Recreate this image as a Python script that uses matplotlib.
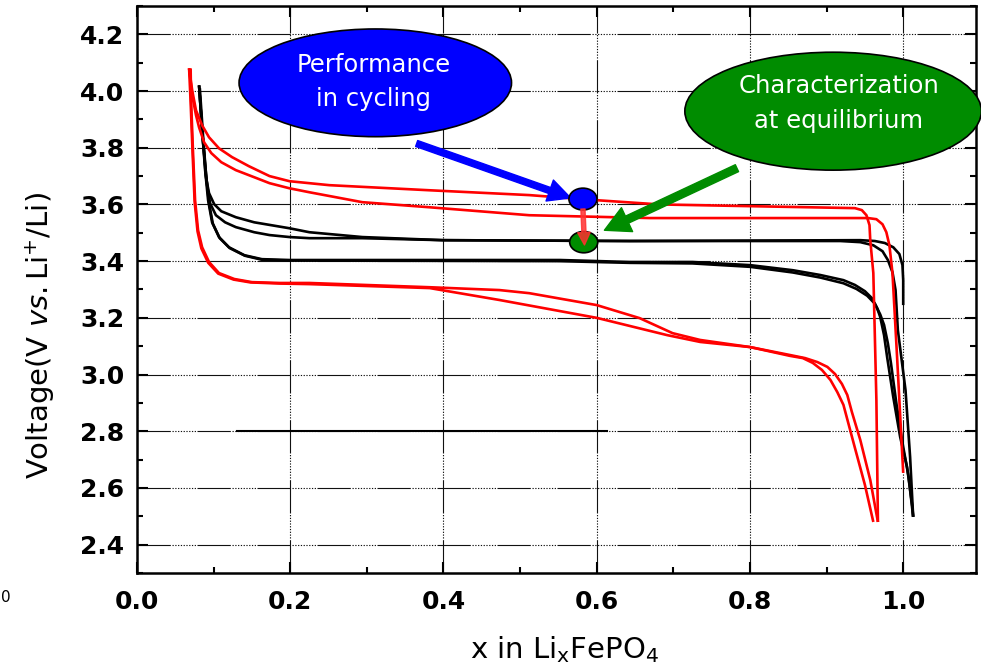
import matplotlib
matplotlib.use("Agg")
import matplotlib.pyplot as plt
from matplotlib.patches import Ellipse, FancyArrowPatch, ArrowStyle
from matplotlib.ticker import MultipleLocator

plt.rcParams["font.family"] = ["DejaVu Sans"]
plt.rcParams["mathtext.default"] = "regular"
plt.rcParams["lines.scale_dashes"] = False

# ---- galvanostatic curves, x in LixFePO4 vs voltage ----
# red: cycling at high rate
red_dis1_x = [0.070, 0.0706, 0.073, 0.0758, 0.0797, 0.085, 0.094, 0.107, 0.127, 0.150, 0.186,
              0.225, 0.382, 0.473, 0.512, 0.600, 0.656, 0.699, 0.735, 0.800, 0.852, 0.872,
              0.888, 0.901, 0.911, 0.920, 0.927, 0.933, 0.944, 0.957, 0.967]
red_dis1_v = [4.080, 3.967, 3.791, 3.615, 3.509, 3.449, 3.397, 3.358, 3.337, 3.326, 3.323,
              3.323, 3.308, 3.298, 3.287, 3.245, 3.199, 3.146, 3.122, 3.097, 3.069, 3.058,
              3.044, 3.027, 3.002, 2.967, 2.928, 2.868, 2.769, 2.628, 2.480]

red_dis2_x = [0.068, 0.0700, 0.0725, 0.0752, 0.0790, 0.084, 0.093, 0.106, 0.126, 0.148, 0.186,
              0.225, 0.382, 0.473, 0.600, 0.692, 0.735, 0.800, 0.852, 0.869, 0.882, 0.894,
              0.905, 0.914, 0.922, 0.929, 0.937, 0.950, 0.961]
red_dis2_v = [4.080, 3.960, 3.785, 3.610, 3.505, 3.445, 3.394, 3.356, 3.335, 3.325, 3.321,
              3.319, 3.305, 3.263, 3.200, 3.139, 3.115, 3.097, 3.066, 3.058, 3.041, 3.016,
              2.981, 2.938, 2.893, 2.822, 2.741, 2.611, 2.480]

red_chg1_x = [0.967, 0.965, 0.961, 0.957, 0.956, 0.952, 0.946, 0.937, 0.682, 0.600, 0.565,
              0.512, 0.382, 0.251, 0.199, 0.173, 0.146, 0.124, 0.107, 0.094, 0.085, 0.077,
              0.072, 0.068]
red_chg1_v = [2.480, 2.910, 3.358, 3.474, 3.527, 3.562, 3.580, 3.587, 3.600, 3.615, 3.622,
              3.633, 3.650, 3.668, 3.682, 3.700, 3.735, 3.767, 3.798, 3.837, 3.879, 3.932,
              4.003, 4.080]

red_chg2_x = [1.000, 0.992, 0.986, 0.982, 0.978, 0.973, 0.965, 0.954, 0.669, 0.512, 0.382,
              0.294, 0.225, 0.199, 0.173, 0.153, 0.129, 0.110, 0.097, 0.0876, 0.081, 0.077,
              0.072, 0.068]
red_chg2_v = [2.653, 3.062, 3.358, 3.456, 3.502, 3.530, 3.548, 3.552, 3.552, 3.562, 3.590,
              3.608, 3.643, 3.657, 3.675, 3.696, 3.721, 3.749, 3.781, 3.819, 3.872, 3.915,
              3.985, 4.080]

# black: cycling close to equilibrium
blk_dis1_x = [0.081, 0.085, 0.0889, 0.0928, 0.098, 0.107, 0.120, 0.140, 0.163, 0.199, 0.399,
              0.552, 0.643, 0.725, 0.800, 0.856, 0.892, 0.922, 0.937, 0.950, 0.959, 0.966,
              0.970, 0.975, 0.979, 0.987, 0.996, 1.005, 1.012, 1.013]
blk_dis1_v = [4.020, 3.862, 3.721, 3.615, 3.537, 3.485, 3.449, 3.421, 3.407, 3.404, 3.404,
              3.404, 3.397, 3.397, 3.386, 3.368, 3.351, 3.333, 3.316, 3.294, 3.270, 3.234,
              3.203, 3.139, 3.062, 2.921, 2.780, 2.674, 2.533, 2.498]

blk_dis2_x = [0.082, 0.086, 0.0899, 0.0938, 0.099, 0.108, 0.121, 0.141, 0.163, 0.199, 0.399,
              0.552, 0.643, 0.725, 0.800, 0.856, 0.892, 0.922, 0.939, 0.953, 0.963, 0.970,
              0.975, 0.980, 0.984, 0.991, 0.999, 1.007, 1.013]
blk_dis2_v = [4.010, 3.850, 3.712, 3.608, 3.532, 3.481, 3.446, 3.419, 3.405, 3.402, 3.401,
              3.400, 3.394, 3.392, 3.380, 3.360, 3.342, 3.322, 3.302, 3.278, 3.250, 3.212,
              3.175, 3.110, 3.040, 2.900, 2.760, 2.640, 2.498]

blk_chg1_x = [1.000, 1.000, 0.999, 0.995, 0.987, 0.976, 0.963, 0.944, 0.643, 0.399, 0.294,
              0.225, 0.199, 0.153, 0.129, 0.110, 0.1007, 0.094, 0.090, 0.085, 0.081]
blk_chg1_v = [3.245, 3.333, 3.386, 3.425, 3.449, 3.464, 3.471, 3.474, 3.471, 3.474, 3.485,
              3.502, 3.516, 3.537, 3.555, 3.576, 3.601, 3.640, 3.696, 3.862, 4.020]

blk_chg2_x = [1.013, 1.009, 1.003, 0.993, 0.990, 0.986, 0.980, 0.973, 0.961, 0.944, 0.918,
              0.643, 0.399, 0.294, 0.225, 0.199, 0.173, 0.153, 0.129, 0.115, 0.103, 0.0954,
              0.0915, 0.086, 0.081]
blk_chg2_v = [2.498, 2.709, 2.945, 3.157, 3.298, 3.361, 3.404, 3.435, 3.456, 3.467, 3.471,
              3.471, 3.474, 3.481, 3.481, 3.485, 3.492, 3.502, 3.520, 3.537, 3.562, 3.604,
              3.668, 3.826, 4.020]

# short trace lying on the 2.8 V line
flat_x = [0.130, 0.614]
flat_v = [2.80, 2.80]

# operating points: under cycling and at equilibrium
cycling_point = (0.582, 3.619)
equilibrium_point = (0.583, 3.467)

x_ticks = [0.0, 0.2, 0.4, 0.6, 0.8, 1.0]
y_ticks = [2.4, 2.6, 2.8, 3.0, 3.2, 3.4, 3.6, 3.8, 4.0, 4.2]

# ---- figure ----
fig = plt.figure(figsize=(9.81, 6.72), dpi=100)
ax = fig.add_axes([137 / 981, 1 - 573 / 672, 839 / 981, 567 / 672])
ax.set_xlim(0.0, 1.095)
ax.set_ylim(2.3, 4.3)

grid_dash = (0, (24, 1.2) + (0.9, 1.1) * 9)
ax.set_axisbelow(True)
ax.grid(True, which="major", color="#111111", lw=0.8, linestyle=grid_dash)

lw = 1.9
for xs, vs in [(blk_dis1_x, blk_dis1_v), (blk_dis2_x, blk_dis2_v),
               (blk_chg1_x, blk_chg1_v), (blk_chg2_x, blk_chg2_v)]:
    ax.plot(xs, vs, color="black", lw=lw, solid_capstyle="butt",
            solid_joinstyle="round", zorder=3)
for xs, vs in [(red_dis1_x, red_dis1_v), (red_dis2_x, red_dis2_v),
               (red_chg1_x, red_chg1_v), (red_chg2_x, red_chg2_v)]:
    ax.plot(xs, vs, color="#ff0000", lw=lw, solid_capstyle="butt",
            solid_joinstyle="round", zorder=3)
ax.plot(flat_x, flat_v, color="black", lw=1.5, zorder=3)

# axes styling
ax.set_xticks(x_ticks)
ax.set_yticks(y_ticks)
ax.set_xticklabels([f"{t:.1f}" for t in x_ticks])
ax.set_yticklabels([f"{t:.1f}" for t in y_ticks])
ax.xaxis.set_minor_locator(MultipleLocator(0.1))
ax.yaxis.set_minor_locator(MultipleLocator(0.1))
ax.tick_params(which="both", direction="in", top=True, right=True, width=1.5, color="black")
ax.tick_params(which="major", length=8)
ax.tick_params(which="minor", length=4.5)
ax.tick_params(axis="x", which="major", pad=12)
ax.tick_params(axis="y", which="major", pad=9)
for lab in ax.get_xticklabels() + ax.get_yticklabels():
    lab.set_fontweight("bold")
    lab.set_fontsize(18)
for sp in ax.spines.values():
    sp.set_linewidth(1.8)

ax.set_xlabel(r"x in Li$_x$FePO$_4$", fontsize=21, va="baseline")
ax.xaxis.set_label_coords(0.510, -0.150)
ax.set_ylabel(r"Voltage(V $\mathit{vs.}$Li$^{+}$/Li)", fontsize=21, va="center")
ax.yaxis.set_label_coords(-0.1156, 0.418)

# callout bubbles
blue_bubble = Ellipse((0.311, 4.029), 0.3556, 0.380, facecolor="#0000ff",
                      edgecolor="black", lw=1.2, zorder=5, clip_on=False)
green_bubble = Ellipse((0.9085, 3.929), 0.387, 0.416, facecolor="#008c00",
                       edgecolor="black", lw=1.2, zorder=5, clip_on=False)
ax.add_patch(blue_bubble)
ax.add_patch(green_bubble)

txt_kw = dict(color="white", fontsize=17.5, ha="center", va="baseline", zorder=9)
ax.text(0.3085, 4.066, "Performance", **txt_kw)
ax.text(0.3085, 3.946, "in cycling", **txt_kw)
ax.text(0.916, 3.992, "Characterization", clip_on=False, **txt_kw)
ax.text(0.916, 3.869, "at equilibrium", clip_on=False, **txt_kw)

# arrows pointing at the two operating points
ax.add_patch(FancyArrowPatch((0.365, 3.815), (0.566, 3.623),
                             arrowstyle=ArrowStyle.Simple(head_length=1.6, head_width=1.6,
                                                          tail_width=0.45),
                             mutation_scale=10, color="#0000ff", shrinkA=0, shrinkB=0,
                             zorder=6))
ax.add_patch(FancyArrowPatch((0.783, 3.728), (0.610, 3.509),
                             arrowstyle=ArrowStyle.Simple(head_length=1.8, head_width=1.9,
                                                          tail_width=0.55),
                             mutation_scale=10, color="#008c00", shrinkA=0, shrinkB=0,
                             zorder=6))

# operating point markers
ax.add_patch(Ellipse(cycling_point, 0.0366, 0.077, facecolor="#0000ff",
                     edgecolor="black", lw=1.2, zorder=7))
ax.add_patch(Ellipse(equilibrium_point, 0.0366, 0.075, facecolor="#008c00",
                     edgecolor="black", lw=1.2, zorder=7))
ax.add_patch(FancyArrowPatch((cycling_point[0], cycling_point[1] - 0.035),
                             (equilibrium_point[0] + 0.001, equilibrium_point[1] - 0.01),
                             arrowstyle=ArrowStyle.Simple(head_length=0.9, head_width=0.9,
                                                          tail_width=0.3),
                             mutation_scale=10, color="#ff3030", alpha=0.85,
                             shrinkA=0, shrinkB=0, zorder=8))

fig.text(1 / 981, 1 - 597 / 672, "0", fontsize=11, ha="left", va="center")

fig.savefig("out.png", dpi=100)
